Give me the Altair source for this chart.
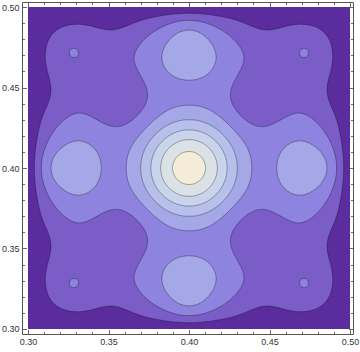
import numpy as np
import pandas as pd
import altair as alt

# ---------------- axis / frame values ----------------
X_MAJOR = [0.30, 0.35, 0.40, 0.45, 0.50]
Y_MAJOR = [0.30, 0.35, 0.40, 0.45, 0.50]
MINOR = [0.31, 0.32, 0.33, 0.34, 0.36, 0.37, 0.38, 0.39,
         0.41, 0.42, 0.43, 0.44, 0.46, 0.47, 0.48, 0.49]
X_DOMAIN = [0.29627, 0.50186]
Y_DOMAIN = [0.29689, 0.50311]
DATA_RANGE = [0.30, 0.50]
CENTER = [0.40, 0.40]
UNIT = 0.01   # u, v below are in hundredths from the centre

# ---------------- field levels ----------------
# points (u, v) lying on a contour (or a read peak/saddle value), in units of 0.01
OBS_U = [0.0, 1.06, 0.75, 1.74, 1.24, 2.30, 1.64, 2.98, 2.14, 4.04, 3.90, 2.72,
         4.65,
         5.25, 7.00, 8.50, 5.55, 6.30, 7.30, 8.15, 8.45,
         9.10, 9.05, 8.75, 7.60, 6.20, 5.00, 4.00, 3.05,
         4.60, 5.40, 6.30, 6.20, 8.30, 8.00,
         7.20, 7.43, 7.75, 6.70,
         9.60, 9.35, 9.05, 8.70, 8.75, 8.80, 7.85, 8.50, 9.20]
OBS_V = [0.0, 0.0, 0.75, 0.0, 1.24, 0.0, 1.64, 0.0, 2.14, 0.0, 1.50, 2.72,
         0.0,
         0.0, 0.0, 0.0, 0.95, 1.55, 1.92, 1.65, 1.00,
         0.0, 1.50, 2.50, 3.00, 2.60, 2.20, 2.55, 3.05,
         4.60, 7.20, 6.30, 4.60, 3.05, 6.00,
         7.20, 7.20, 7.20, 7.20,
         0.0, 2.00, 3.10, 5.00, 6.30, 7.40, 8.80, 8.50, 9.20]
OBS_F = [7.55, 7, 7, 6, 6, 5, 5, 4, 4, 3, 3, 3,
         2.55,
         3, 3.45, 3, 3, 3, 3, 3, 3,
         2, 2, 2, 2, 2, 2, 2, 2,
         1.5, 1.6, 1.75, 1.55, 1.5, 1.45,
         2.15, 2.0, 1.7, 1.8,
         1, 1, 1, 1, 1, 1, 1, 1, 0.45]
OBS_W = [1, 1, 1, 1, 1, 1, 1, 1, 1, 1, 1, 1,
         1,
         1, 1, 1, 1, 1, 1, 1, 1,
         1, 1, 1, 1, 1, 1, 1, 1,
         0.5, 0.5, 0.5, 0.5, 0.5, 0.5,
         1, 1, 0.5, 0.5,
         8, 8, 8, 8, 8, 8, 8, 8, 3]

LEVELS = [1, 2, 3, 4, 5, 6, 7]
BAND_COLORS = ['#5b2c9d', '#7b5dc8', '#8e83de', '#a5a8e7',
               '#b7c0ea', '#c8d3ec', '#dbe2e6', '#f4ecd7']

# basis bumps: (kind, a, b, width)  c=centre, a=on axes, k=on diagonals, e=8-fold
BASIS = [('c', 0, 0, 1.2), ('c', 0, 0, 2.2), ('c', 0, 0, 3.5),
         ('a', 7.0, 0, 1.3), ('a', 7.0, 0, 2.5), ('a', 9.0, 0, 1.0), ('a', 4.5, 0, 1.2),
         ('k', 7.2, 0, 0.35), ('k', 7.2, 0, 2.0), ('k', 4.5, 0, 1.5),
         ('e', 9.0, 4.5, 1.5), ('e', 7.5, 4.0, 1.5)]
WALL = 10.0
ENV_N = 8


def sym_points(kind, a, b):
    if kind == 'c':
        return [(0.0, 0.0)]
    if kind == 'a':
        return [(a, 0.0), (-a, 0.0), (0.0, a), (0.0, -a)]
    if kind == 'k':
        return [(a, a), (-a, a), (a, -a), (-a, -a)]
    pts = []
    for sa in (1, -1):
        for sb in (1, -1):
            pts.append((sa * a, sb * b))
            pts.append((sb * b, sa * a))
    return pts


def envelope(u, v):
    return np.clip(1 - (np.abs(u) / WALL) ** ENV_N - (np.abs(v) / WALL) ** ENV_N, 0, None)


def basis_eval(u, v):
    cols = [np.ones_like(u)]
    for kind, a, b, s in BASIS:
        acc = np.zeros_like(u)
        for cu, cv in sym_points(kind, a, b):
            acc = acc + np.exp(-((u - cu) ** 2 + (v - cv) ** 2) / (2 * s * s))
        cols.append(acc)
    E = envelope(u, v)
    return np.stack([c * E for c in cols], axis=-1)


U = np.array(OBS_U, float)
V = np.array(OBS_V, float)
Fo = np.array(OBS_F, float)
W = np.array(OBS_W, float)
A = basis_eval(U, V)
AW = A * W[:, None]
coef = np.linalg.solve(A.T @ AW + 1e-3 * np.eye(A.shape[1]), AW.T @ Fo)

us = np.arange(-10.5, 10.5 + 1e-9, 0.06)
vs = np.arange(-10.5, 10.5 + 1e-9, 0.06)
UU, VV = np.meshgrid(us, vs)
F = basis_eval(UU, VV) @ coef


def loops_for(F, us, vs, level):
    B = F >= level
    c0 = B[:-1, :-1]; c1 = B[:-1, 1:]; c2 = B[1:, 1:]; c3 = B[1:, :-1]
    code = c0.astype(int) + 2 * c1 + 4 * c2 + 8 * c3
    adj = {}

    def link(a, b):
        adj.setdefault(a, []).append(b)
        adj.setdefault(b, []).append(a)

    for j, i in zip(*np.nonzero((code > 0) & (code < 15))):
        b0, b1, b2, b3 = c0[j, i], c1[j, i], c2[j, i], c3[j, i]
        bot = ('h', j, i); top = ('h', j + 1, i)
        left = ('v', j, i); right = ('v', j, i + 1)
        es = []
        if b0 != b1: es.append(bot)
        if b1 != b2: es.append(right)
        if b2 != b3: es.append(top)
        if b3 != b0: es.append(left)
        if len(es) == 2:
            link(es[0], es[1])
        else:
            cen = (F[j, i] + F[j, i + 1] + F[j + 1, i + 1] + F[j + 1, i]) / 4 >= level
            if cen == b0:
                link(bot, right); link(top, left)
            else:
                link(left, bot); link(right, top)

    def pt(e):
        kind, j, i = e
        if kind == 'h':
            a, b = F[j, i], F[j, i + 1]
            t = (level - a) / (b - a)
            return us[i] + t * (us[i + 1] - us[i]), vs[j]
        a, b = F[j, i], F[j + 1, i]
        t = (level - a) / (b - a)
        return us[i], vs[j] + t * (vs[j + 1] - vs[j])

    seen = set()
    loops = []
    for start in list(adj.keys()):
        if start in seen:
            continue
        loop = [start]; seen.add(start); cur = start
        while True:
            nxt = [n for n in adj[cur] if n not in seen]
            if not nxt:
                break
            cur = nxt[0]; seen.add(cur); loop.append(cur)
        if len(loop) >= 3:
            loops.append([pt(e) for e in loop])
    return loops


x_sc = alt.Scale(domain=X_DOMAIN, nice=False, zero=False)
y_sc = alt.Scale(domain=Y_DOMAIN, nice=False, zero=False)

AX_COMMON = dict(domain=False, grid=False, title=None, tickColor='#444',
                 tickWidth=0.8, labelFont='Liberation Sans', labelFontSize=9,
                 labelColor='#333', labelFlush=False, labelOverlap=False)


def ax(orient, values, size, labels):
    kw = dict(AX_COMMON, orient=orient, values=values, tickSize=size,
              offset=-size, labels=labels)
    if labels:
        kw.update(format='.2f', labelPadding=3)
    return alt.Axis(**kw)


bg_df = pd.DataFrame({'x0': [DATA_RANGE[0]], 'x1': [DATA_RANGE[1]],
                      'y0': [DATA_RANGE[0]], 'y1': [DATA_RANGE[1]]})

layers = [alt.Chart(bg_df).mark_rect(color=BAND_COLORS[0]).encode(
    x=alt.X('x0:Q', scale=x_sc, axis=ax('bottom', X_MAJOR, 4.5, True)),
    x2='x1:Q',
    y=alt.Y('y0:Q', scale=y_sc, axis=ax('left', Y_MAJOR, 4.5, True)),
    y2='y1:Q')]

for k, lev in enumerate(LEVELS, start=1):
    rows = []
    for li, lp in enumerate(loops_for(F, us, vs, lev)):
        lp = lp + [lp[0]]
        for n, (u, v) in enumerate(lp):
            rows.append({'x': CENTER[0] + u * UNIT, 'y': CENTER[1] + v * UNIT,
                         'loop': li, 'i': n})
    df = pd.DataFrame(rows)
    layers.append(alt.Chart(df).mark_line(
        filled=True, fill=BAND_COLORS[k], stroke='#000', strokeOpacity=0.45,
        strokeWidth=0.7, interpolate='linear').encode(
        x=alt.X('x:Q', scale=x_sc, axis=None),
        y=alt.Y('y:Q', scale=y_sc, axis=None),
        detail='loop:N', order='i:Q'))

for orient_x, orient_y, vals_x, vals_y, size in [
        ('bottom', 'left', MINOR, MINOR, 2.5),
        ('top', 'right', X_MAJOR, Y_MAJOR, 4.5),
        ('top', 'right', MINOR, MINOR, 2.5)]:
    layers.append(alt.Chart(bg_df).mark_point(opacity=0).encode(
        x=alt.X('x0:Q', scale=x_sc, axis=ax(orient_x, vals_x, size, False)),
        y=alt.Y('y0:Q', scale=y_sc, axis=ax(orient_y, vals_y, size, False))))

chart = alt.layer(*layers).properties(
    width=331, height=332,
    padding={'left': 22, 'top': 2, 'right': 7, 'bottom': 18},
    autosize=alt.AutoSizeParams(type='none'),
).resolve_axis(x='independent', y='independent').configure_view(
    stroke='#555', strokeWidth=1)

chart.save('out.html', embed_options={'renderer': 'svg', 'actions': False})
